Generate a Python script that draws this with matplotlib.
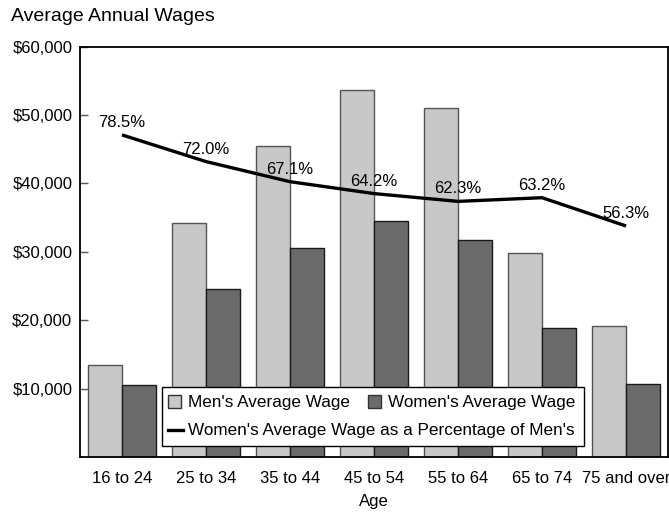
import numpy as np
import matplotlib.pyplot as plt
from matplotlib.patches import Patch, Rectangle
from matplotlib.lines import Line2D

plt.rcParams['font.family'] = ['Liberation Sans', 'DejaVu Sans']

ages = ['16 to 24', '25 to 34', '35 to 44', '45 to 54', '55 to 64', '65 to 74', '75 and over']
men_wage = [13500, 34200, 45500, 53600, 51100, 29800, 19100]
women_wage = [10600, 24600, 30600, 34500, 31800, 18800, 10700]
pct_of_men = [78.5, 72.0, 67.1, 64.2, 62.3, 63.2, 56.3]

men_color = '#c8c8c8'
women_color = '#6b6b6b'

fig = plt.figure(figsize=(6.69, 5.12), dpi=100)
ax = fig.add_axes([0.1196, 0.1074, 0.879, 0.8014])

x = np.arange(len(ages))
w = 0.4
ax.bar(x - w / 2, men_wage, w, color=men_color, edgecolor='#555555', linewidth=1, zorder=2)
ax.bar(x + w / 2, women_wage, w, color=women_color, edgecolor='#1a1a1a', linewidth=1, zorder=2)

ax.set_xlim(-0.5, len(ages) - 0.5)
ax.set_ylim(0, 60000)
ax.set_yticks([10000, 20000, 30000, 40000, 50000, 60000])
ax.set_yticklabels(['${:,.0f}'.format(v) for v in ax.get_yticks()], fontsize=12)
ax.set_xticks(x)
ax.set_xticklabels(ages, fontsize=12)
ax.tick_params(axis='y', direction='in', length=6, width=1, color='#555555', pad=5.5)
ax.tick_params(axis='x', length=0, pad=10)
ax.set_xlabel('Age', fontsize=12, labelpad=6)
for s in ax.spines.values():
    s.set_color('black')
    s.set_linewidth(1.3)

# percentage line on a hidden 0-100 scale
ax2 = ax.twinx()
ax2.set_ylim(0, 100)
ax2.set_yticks([])
for s in ax2.spines.values():
    s.set_visible(False)
ax2.plot(x, pct_of_men, color='black', linewidth=2.4, solid_joinstyle='round',
         solid_capstyle='butt', zorder=3)
for xi, p in zip(x, pct_of_men):
    ax2.annotate(f'{p:.1f}%', (xi, p), xytext=(0, 9), textcoords='offset points',
                 ha='center', va='center', fontsize=12)

# legend: patches on the first row, line on the second, one frame around both
ax2.add_patch(Rectangle((0.1395, 0.027), 0.7175, 0.144, transform=ax2.transAxes,
                        facecolor='white', edgecolor='black', linewidth=1, zorder=4))
h1 = [Patch(facecolor=men_color, edgecolor='#333333', label="Men's Average Wage"),
      Patch(facecolor=women_color, edgecolor='#333333', label="Women's Average Wage")]
leg1 = ax2.legend(handles=h1, ncol=2, loc='center left', bbox_to_anchor=(0.1497, 0.132),
                  frameon=False, fontsize=12.3, borderpad=0, borderaxespad=0,
                  handlelength=0.75, handleheight=0.75, handletextpad=0.4, columnspacing=1.1)
leg1.set_zorder(5)
ax2.add_artist(leg1)
h2 = [Line2D([], [], color='black', linewidth=2.4, label="Women's Average Wage as a Percentage of Men's")]
leg2 = ax2.legend(handles=h2, loc='center left', bbox_to_anchor=(0.1497, 0.0634),
                  frameon=False, fontsize=12.3, borderpad=0, borderaxespad=0,
                  handlelength=0.9, handletextpad=0.25)
leg2.set_zorder(5)

fig.text(0.016, 0.959, 'Average Annual Wages', fontsize=14, va='baseline', ha='left')

fig.savefig('out.png', dpi=100)
